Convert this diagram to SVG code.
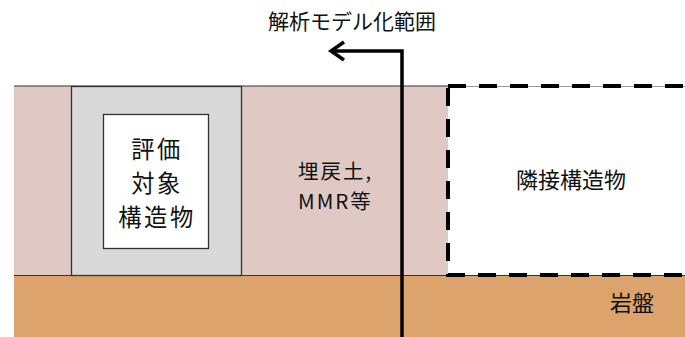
<svg xmlns="http://www.w3.org/2000/svg" width="685" height="337" viewBox="0 0 685 337">
<style>
text{font-family:"Noto Sans CJK JP","Noto Sans",sans-serif;fill:#111}
.thin{stroke:#333;stroke-width:1;fill:none}
.conn{stroke:#000;stroke-width:3.5;fill:none}
</style>
<rect x="0" y="0" width="685" height="337" fill="#fff"/>
<g id="fill-soil">
<rect x="14" y="86" width="434" height="189" fill="#E0C9C4"/>
<line x1="14" y1="86" x2="448" y2="86" class="thin"/>
</g>
<g id="bedrock">
<rect x="14" y="275" width="671" height="62" fill="#DCA46C"/>
<line x1="14" y1="275.5" x2="685" y2="275.5" class="thin"/>
<text x="632" y="311" font-size="22" text-anchor="middle">岩盤</text>
</g>
<g id="adjacent">
<rect x="448" y="86" width="240" height="189" fill="#fff"/>
<line x1="448" y1="86.5" x2="685" y2="86.5" stroke="#999" stroke-width="1"/>
<path d="M448,88 V275 H688 M448,86 H688" fill="none" stroke="#000" stroke-width="4" stroke-dasharray="18,13"/>
<text x="571" y="188" font-size="22" text-anchor="middle">隣接構造物</text>
</g>
<g id="target">
<rect x="71.5" y="86.5" width="170" height="189" fill="#D9D9D9" stroke="#333" stroke-width="1.3"/>
<rect x="103.5" y="114.5" width="105" height="134" fill="#fff" stroke="#333" stroke-width="1.3"/>
<text x="157" y="158" font-size="23.3" letter-spacing="2.5" text-anchor="middle">評価</text>
<text x="157" y="192" font-size="23.3" letter-spacing="2.5" text-anchor="middle">対象</text>
<text x="157" y="226" font-size="23.3" letter-spacing="2.5" text-anchor="middle">構造物</text>
</g>
<g id="backfill">
<text x="298" y="179" font-size="20.5" letter-spacing="2">埋戻土,</text>
<text x="298" y="209" font-size="20.5" letter-spacing="2">MMR等</text>
</g>
<g id="connectors">
<path d="M402,337 V51 H331" class="conn"/>
<path d="M344,42 L331,51 L344,60" class="conn"/>
</g>
<g id="title">
<text x="352" y="29" font-size="21" text-anchor="middle">解析モデル化範囲</text>
</g>
</svg>
